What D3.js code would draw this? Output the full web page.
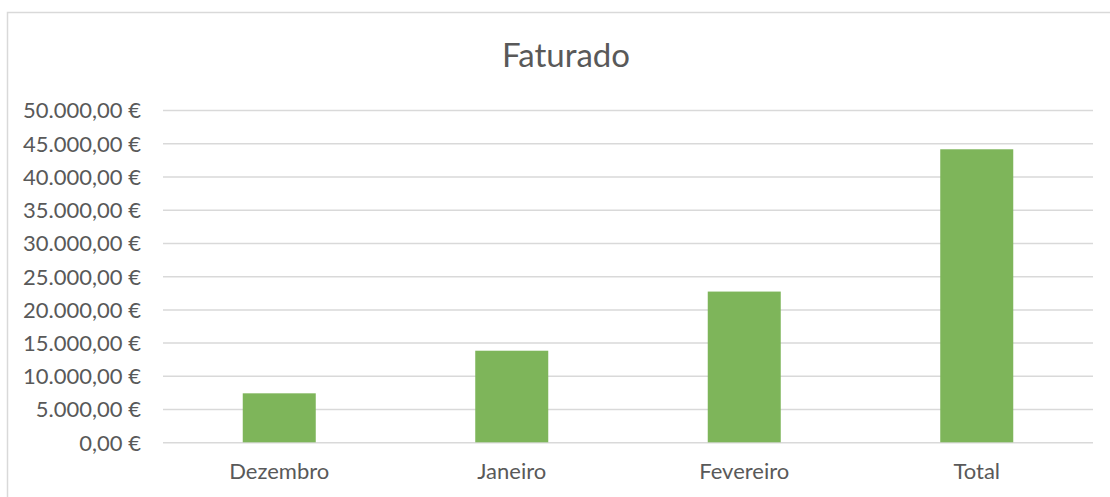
<!DOCTYPE html>
<html>
<head>
<meta charset="utf-8">
<script src="https://cdn.jsdelivr.net/npm/d3@7"></script>
<style>
    body { margin: 0; background: #fff; }
    text { font-family: Lato, "Open Sans", sans-serif; fill: #595959; }
</style>
</head>
<body>
<div class="chart-container"></div>
<script>
// values
const categories = ['Dezembro', 'Janeiro', 'Fevereiro', 'Total'];
const faturado = [7370, 13780, 22680, 44090];
const yTicks = [0, 5000, 10000, 15000, 20000, 25000, 30000, 35000, 40000, 45000, 50000];

const width = 1110;
const height = 497;
const marginTop = 110;
const marginRight = 17;
const marginBottom = 55;
const marginLeft = 163;

const euro = d3.formatLocale({ decimal: ',', thousands: '.', grouping: [3], currency: ['', '\u00a0€'] }).format('$,.2f');

const svg = d3.select('.chart-container').append('svg')
    .attr('width', width)
    .attr('height', height);

// chart area border
svg.append('rect')
    .attr('x', 7.5)
    .attr('y', 12.5)
    .attr('width', width + 20)
    .attr('height', height + 20)
    .attr('fill', 'none')
    .attr('stroke', '#d9d9d9')
    .attr('stroke-width', 1.5);

const x = d3.scaleBand()
    .domain(categories)
    .range([marginLeft, width - marginRight])
    .paddingInner(0.686)
    .paddingOuter(0.343);

const y = d3.scaleLinear()
    .domain([0, 50000])
    .range([height - marginBottom + 0.3, marginTop]);

// gridlines + y labels
const yAxis = svg.append('g')
    .attr('transform', `translate(${marginLeft},0)`)
    .call(d3.axisLeft(y).tickValues(yTicks).tickFormat(euro)
        .tickSize(-(width - marginLeft - marginRight)).tickPadding(22));
yAxis.select('.domain').remove();
yAxis.selectAll('.tick line').attr('stroke', '#d9d9d9').attr('stroke-width', 1.5);
yAxis.selectAll('.tick text')
    .style('font-size', '22px')
    .attr('fill', '#5f5f5f')
    .attr('dy', '0.36em');

// bars
svg.selectAll('.bar')
    .data(faturado)
    .enter()
    .append('rect')
    .attr('class', 'bar')
    .attr('x', (d, i) => x(categories[i]))
    .attr('y', d => y(d))
    .attr('width', x.bandwidth())
    .attr('height', d => y(0) - y(d))
    .attr('fill', '#7eb55a');

// x labels
const xAxis = svg.append('g')
    .attr('transform', `translate(0,${y(0)})`)
    .call(d3.axisBottom(x).tickSize(0).tickPadding(21));
xAxis.select('.domain').remove();
xAxis.selectAll('.tick text')
    .style('font-size', '22px')
    .attr('fill', '#5f5f5f');

// title
svg.append('text')
    .attr('x', (marginLeft + width - marginRight) / 2 - 62)
    .attr('y', 67)
    .attr('text-anchor', 'middle')
    .attr('fill', '#5f5f5f')
    .style('font-size', '33px')
    .text('Faturado');
</script>
</body>
</html>
